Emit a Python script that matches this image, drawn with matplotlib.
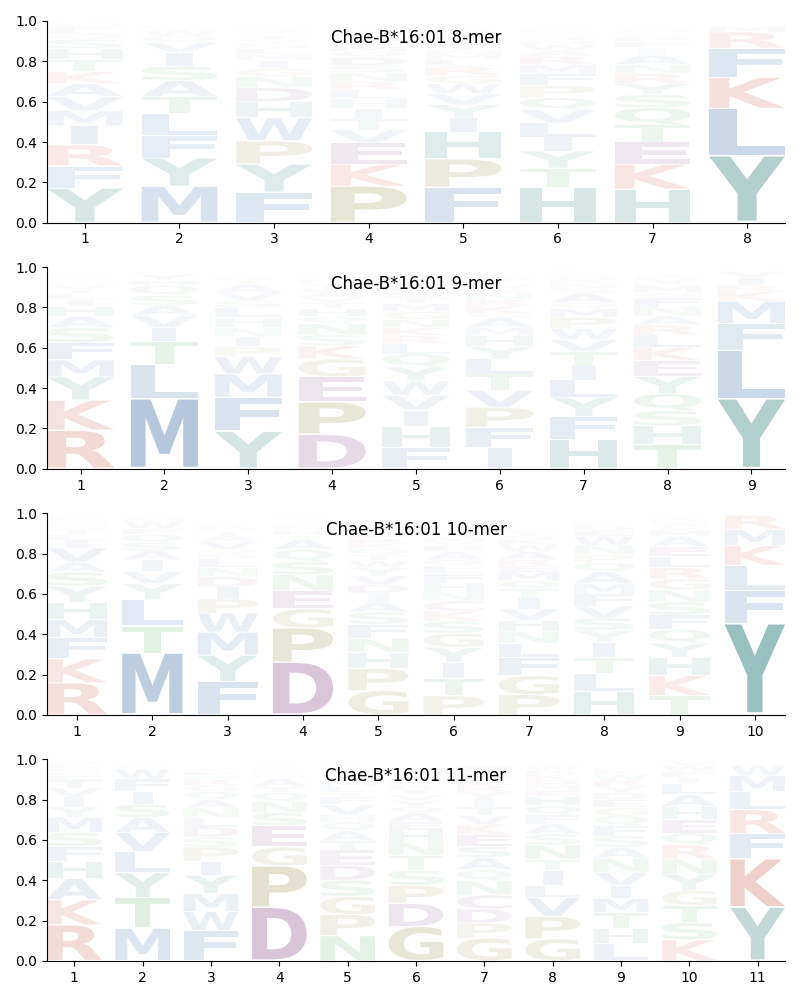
import matplotlib
matplotlib.use("Agg")
import matplotlib.pyplot as plt
from matplotlib.font_manager import FontProperties
from matplotlib.patches import PathPatch
from matplotlib.textpath import TextPath
from matplotlib.transforms import Affine2D

titles = ["Chae-B*16:01 8-mer", "Chae-B*16:01 9-mer", "Chae-B*16:01 10-mer", "Chae-B*16:01 11-mer"]

# letters per position, bottom of the stack first
letters_8 = ["YFRIMVAKTHSQLENDG", "MYFLTASIVQWNHRE", "FYPWHDNGIMLSVTQAREK", "PKEVTIHLRNSDQMFWYA",
             "FPHIYVWGRLMNTSEAQDK", "HTYILVQPFMRAWNSGKDE", "HKETQSYRNAIFPWLGMV", "YLKFRM"]
heights_8 = [
    [.17, .11, .105, .095, .075, .07, .065, .06, .06, .055, .045, .025, .025, .015, .012, .008, .005],
    [.18, .14, .11, .11, .085, .08, .07, .07, .05, .03, .03, .01, .005, .005, .005],
    [.15, .14, .115, .115, .08, .07, .055, .04, .04, .03, .03, .025, .02, .02, .015, .015, .01, .01, .005],
    [.18, .11, .105, .065, .055, .05, .05, .045, .04, .045, .035, .04, .03, .025, .02, .02, .02, .015],
    [.175, .14, .135, .07, .065, .055, .05, .04, .045, .035, .025, .02, .02, .02, .015, .015, .015, .012, .01],
    [.175, .095, .085, .07, .07, .065, .06, .06, .06, .045, .04, .03, .03, .02, .02, .015, .015, .01, .01],
    [.165, .125, .11, .085, .085, .065, .055, .05, .045, .05, .035, .03, .02, .015, .01, .01, .01, .008],
    [.33, .235, .155, .145, .08, .03],
]

letters_9 = ["RKYMFSAHILTVNQGDEP", "MLTIVASQHYNG", "YFMWPINHLSVATRK", "DPEGKSNQHTVAWYMF",
             "FHIVWYQLRKNGMTSDAEP", "IFPVTLYHMAGKRNSQEWD", "HFYLITVWPMQASNKGRE", "THSQYEKLRANFGMPVDI",
             "YLFMKRIV"]
heights_9 = [
    [.19, .15, .115, .085, .085, .075, .055, .05, .035, .03, .02, .02, .015, .015, .01, .01, .005, .005],
    [.345, .17, .115, .07, .06, .05, .05, .05, .025, .03, .01, .005],
    [.185, .17, .115, .085, .05, .05, .045, .05, .05, .035, .04, .04, .02, .015, .01],
    [.17, .16, .125, .09, .065, .055, .055, .035, .04, .03, .025, .025, .02, .02, .015, .015],
    [.105, .105, .08, .075, .07, .07, .065, .05, .04, .04, .04, .04, .04, .03, .03, .025, .02, .02, .015],
    [.105, .10, .10, .085, .08, .075, .06, .055, .04, .05, .02, .04, .03, .03, .025, .02, .015, .015, .01],
    [.145, .115, .095, .085, .07, .07, .06, .055, .055, .045, .03, .045, .025, .025, .02, .02, .015, .01],
    [.118, .095, .075, .085, .085, .08, .065, .06, .05, .045, .045, .045, .025, .035, .015, .02, .015, .01],
    [.345, .24, .135, .11, .05, .03, .04, .03],
]

letters_10 = ["RKFMHYSAVILTQNGED", "MTLYVIASQFWNH", "FYMWPIDNLSQVATHRK", "DPGENSQATHRLKIFYV",
              "GPHNFSAIDVYWTQKREML", "PTIYGSKCNHFLQAEVMWR", "PGFLNHVITQMERAWKSYD", "HLTIYSVFMAQPNWEDKGR",
              "TKHYQFSNGRLEAMVWDIP", "YFLKMR"]
heights_10 = [
    [.158, .12, .105, .09, .085, .08, .07, .05, .07, .04, .025, .025, .02, .015, .015, .01, .008],
    [.305, .135, .13, .08, .06, .06, .045, .04, .04, .03, .035, .015, .01],
    [.165, .13, .115, .095, .07, .06, .05, .045, .045, .025, .02, .04, .03, .02, .015, .01, .01],
    [.26, .17, .095, .09, .08, .065, .06, .05, .02, .025, .015, .015, .01, .01, .008, .008, .006],
    [.12, .11, .08, .07, .07, .06, .05, .045, .04, .045, .04, .035, .03, .03, .025, .025, .02, .02, .02],
    [.095, .085, .08, .075, .07, .06, .05, .05, .045, .045, .045, .04, .03, .04, .03, .02, .02, .02, .015],
    [.10, .095, .09, .07, .06, .055, .055, .055, .045, .04, .045, .03, .03, .04, .035, .025, .02, .02, .015],
    [.115, .09, .08, .075, .06, .06, .06, .06, .05, .06, .045, .04, .045, .045, .03, .02, .015, .01, .01],
    [.095, .10, .09, .07, .07, .07, .065, .06, .055, .055, .055, .05, .05, .03, .02, .02, .012, .01, .008],
    [.45, .165, .125, .10, .08, .07],
]

letters_11 = ["RKAHFSMYIVTEGQLNW", "MTYLVASIFWNKQ", "FWMYIPSDLNAQGRHEK", "DPGESNQTAHRKLFVYI",
              "NPGSDETAQHVFILMWYRK", "GDPSTNHEAQYVIRKLFMW", "GPDCNQASEKVTIYRLFMH", "GPVLITNSAFQHEMDKRWY",
              "LHTMIVNASFQGEDYRWKP", "KSTGYNRQEHALIFWVP", "YKFRLMWVI"]
heights_11 = [
    [.178, .125, .105, .085, .075, .07, .075, .05, .05, .045, .04, .02, .02, .02, .015, .015, .01],
    [.162, .15, .125, .105, .095, .075, .065, .065, .06, .05, .015, .01, .008],
    [.15, .095, .09, .09, .07, .07, .05, .05, .045, .05, .04, .04, .03, .03, .02, .02, .015],
    [.265, .205, .095, .105, .065, .055, .045, .03, .04, .015, .015, .015, .01, .008, .008, .006, .005],
    [.125, .105, .09, .08, .075, .075, .045, .05, .045, .035, .05, .04, .02, .03, .03, .02, .02, .02, .01],
    [.17, .115, .09, .075, .075, .065, .06, .04, .045, .03, .03, .03, .025, .02, .02, .02, .02, .015, .015],
    [.113, .075, .07, .07, .07, .055, .06, .055, .06, .05, .045, .04, .04, .035, .035, .03, .025, .02, .02],
    [.11, .11, .095, .06, .075, .055, .07, .055, .05, .045, .045, .045, .03, .03, .025, .025, .02, .02, .015],
    [.085, .075, .08, .07, .065, .065, .07, .055, .055, .05, .05, .04, .04, .035, .03, .03, .03, .02, .015],
    [.105, .085, .085, .075, .08, .075, .07, .06, .065, .065, .06, .055, .03, .03, .03, .02, .01],
    [.265, .24, .125, .12, .09, .08, .05, .01, .005],
]

all_letters = [letters_8, letters_9, letters_10, letters_11]
all_heights = [heights_8, heights_9, heights_10, heights_11]

groups = {
    "YH": "#00645f",
    "FLMIVWA": "#0f4b91",
    "KR": "#b9230f",
    "DEC": "#5f0f5f",
    "PG": "#6e5f00",
    "TSNQ": "#198c28",
}
colors = {}
for g in groups:
    for aa in g:
        colors[aa] = groups[g]

font = FontProperties(family="DejaVu Sans", weight="bold")
col_width = 0.8


def draw_letter(ax, aa, x, y, h):
    tp = TextPath((0, 0), aa, size=1, prop=font)
    box = tp.get_extents()
    w = col_width
    if aa == "I":
        w = col_width * 0.36
    bottom = y + 0.03 * h
    top = y + h - 0.002
    tr = (Affine2D().translate(-box.x0, -box.y0)
          .scale(w / box.width, (top - bottom) / box.height)
          .translate(x - w / 2, bottom))
    patch = PathPatch(tr.transform_path(tp), facecolor=colors[aa], edgecolor="none", alpha=min(0.9 * h, 1.0))
    ax.add_patch(patch)


fig, axes = plt.subplots(4, 1, figsize=(8, 10), dpi=100)
fig.subplots_adjust(left=47 / 800, right=785 / 800, top=1 - 21 / 1000, bottom=1 - 961 / 1000, hspace=0.22)

for ax, title, letters, heights in zip(axes, titles, all_letters, all_heights):
    n = len(letters)
    for pos in range(n):
        y = 0
        for aa, h in zip(letters[pos], heights[pos], strict=True):
            draw_letter(ax, aa, pos + 1, y, h)
            y += h
    ax.set_xlim(0.6, n + 0.4)
    ax.set_ylim(0, 1)
    ax.set_xticks(range(1, n + 1))
    ax.spines["top"].set_visible(False)
    ax.spines["right"].set_visible(False)
    ax.set_title(title, fontsize=12, y=0.89, pad=0)

fig.savefig("out.png", dpi=100)
